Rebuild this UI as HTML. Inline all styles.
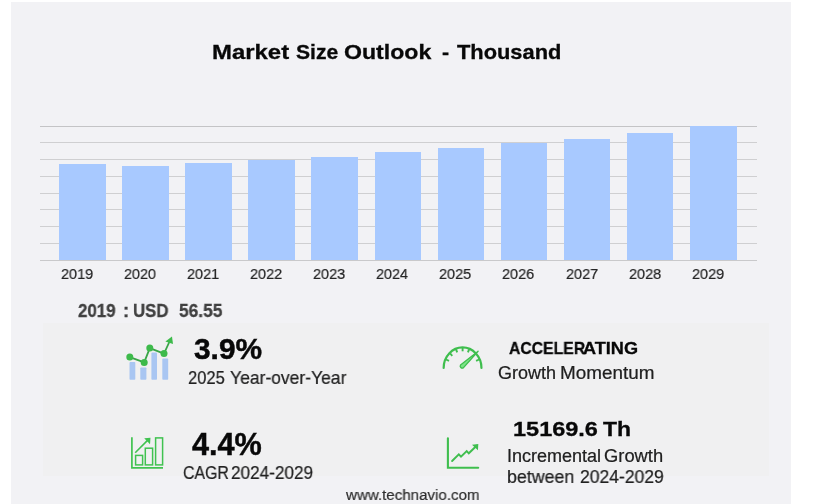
<!DOCTYPE html>
<html>
<head>
<meta charset="utf-8">
<title>Market Size Outlook</title>
<style>
  html, body { margin: 0; padding: 0; }
  body {
    width: 814px; height: 504px; overflow: hidden; position: relative;
    background: #ffffff;
    font-family: "Liberation Sans", sans-serif;
  }
  #panel {
    position: absolute; left: 11px; top: 2px; width: 780px; height: 502px;
    background: #f2f2f5;
  }
  .grid { position: absolute; left: 40px; width: 717px; height: 1px; background: #cfcfd1; }
  .bar { position: absolute; width: 46.5px; background: #a8c9ff; }
  .t { position: absolute; white-space: pre; line-height: 1; margin: 0; padding: 0; transform-origin: 0 0; will-change: transform; }
  svg#icons { position: absolute; left: 0; top: 0; width: 814px; height: 504px; overflow: visible; }
</style>
</head>
<body>
<div id="panel"></div>
<div id="inner" style="position:absolute; left:43px; top:323px; width:726px; height:153px; background:#f0f0f1;"></div>

<!-- gridlines -->
<div class="grid" style="top:125.6px; background:#c4c4c6;"></div>
<div class="grid" style="top:142.3px;"></div>
<div class="grid" style="top:159.1px;"></div>
<div class="grid" style="top:175.8px;"></div>
<div class="grid" style="top:192.6px;"></div>
<div class="grid" style="top:209.3px;"></div>
<div class="grid" style="top:226.1px;"></div>
<div class="grid" style="top:242.8px;"></div>
<div class="grid" style="top:259.6px; background:#c9c9cb;"></div>

<!-- bars -->
<div class="bar" style="left:59px;    top:164.2px; height:95.8px;"></div>
<div class="bar" style="left:122.1px; top:166px;   height:94px;"></div>
<div class="bar" style="left:185.2px; top:163.2px; height:96.8px;"></div>
<div class="bar" style="left:248.3px; top:159.8px; height:100.2px;"></div>
<div class="bar" style="left:311.4px; top:156.9px; height:103.1px;"></div>
<div class="bar" style="left:374.5px; top:151.9px; height:108.1px;"></div>
<div class="bar" style="left:437.6px; top:148.1px; height:111.9px;"></div>
<div class="bar" style="left:500.7px; top:142.7px; height:117.3px;"></div>
<div class="bar" style="left:563.8px; top:138.5px; height:121.5px;"></div>
<div class="bar" style="left:626.9px; top:132.8px; height:127.2px;"></div>
<div class="bar" style="left:690px;   top:126px;   height:134px;"></div>

<!-- icons -->
<svg id="icons" viewBox="0 0 814 504">
  <!-- icon 1: bars + green trend line -->
  <g>
    <rect x="129.5" y="362.1" width="5.8" height="17.7" rx="0.8" fill="#a9c6f2"/>
    <rect x="140.3" y="367.5" width="6.1" height="12.3" rx="0.8" fill="#a9c6f2"/>
    <rect x="151.4" y="352.6" width="5.6" height="27.2" rx="0.8" fill="#a9c6f2"/>
    <rect x="162.3" y="358.6" width="5.9" height="21.2" rx="0.8" fill="#a9c6f2"/>
    <polyline points="129.8,357.1 144.2,362.4 149.8,348.1 164,353.6 170,340.5" fill="none" stroke="#3aa548" stroke-width="1.8" stroke-linejoin="round"/>
    <circle cx="129.8" cy="357.1" r="3.5" fill="#3dba4b"/>
    <circle cx="144.2" cy="362.4" r="3.5" fill="#3dba4b"/>
    <circle cx="149.8" cy="348.1" r="3.5" fill="#3dba4b"/>
    <circle cx="164"   cy="353.6" r="3.5" fill="#3dba4b"/>
    <polygon points="165.4,341.6 172,336.4 173,344" fill="#3dba4b"/>
  </g>

  <!-- icon 2: CAGR outlined bars with arrow -->
  <g fill="none" stroke="#40c250" stroke-width="1.7">
    <polyline points="131.9,437.3 131.9,467.9 163,467.9"/>
    <rect x="135.6" y="455.4" width="7" height="9.5" stroke-width="1.5"/>
    <rect x="145.3" y="448.2" width="7.3" height="16.7" stroke-width="1.5"/>
    <rect x="155.6" y="437.9" width="7" height="27" stroke-width="1.5"/>
    <line x1="135.2" y1="452.8" x2="148.5" y2="439.4" stroke-width="1.6"/>
    <polygon points="144.2,438.2 150.5,437.8 150,444.2" fill="#40c250" stroke="none"/>
  </g>

  <!-- icon 3: speedometer -->
  <g fill="none" stroke="#3fbe4e" stroke-width="2.2" stroke-linecap="round">
    <path d="M443.65,367.9 A18.9,20.5 0 0 1 481.45,367.9"/>
    <g stroke-width="1.9" stroke-linecap="butt">
      <line x1="446.0" y1="359.5" x2="449.0" y2="360.9"/>
      <line x1="450.1" y1="353.3" x2="452.3" y2="355.8"/>
      <line x1="456.0" y1="349.3" x2="457.2" y2="352.4"/>
      <line x1="462.6" y1="348.0" x2="462.6" y2="351.3"/>
      <line x1="469.1" y1="349.3" x2="467.9" y2="352.4"/>
      <line x1="479.1" y1="359.5" x2="476.1" y2="360.9"/>
    </g>
    <path d="M478.1,351.2 L463.3,367.9 A2.1,2.1 0 0 1 460.5,365 Z" fill="#7be487" stroke-width="1.3" stroke-linejoin="round"/>
  </g>

  <!-- icon 4: line chart with arrow -->
  <g fill="none" stroke="#3fbe4e">
    <polyline points="447.9,438.2 447.9,467.8 478.2,467.8" stroke-width="2.1" stroke-linecap="round" stroke-linejoin="miter"/>
    <polyline points="452.1,461 458.8,454.3 461,456.6 466.7,451 468.8,453.3 476.6,445.7" stroke-width="1.9" stroke-linecap="round" stroke-linejoin="miter"/>
    <polygon points="472,444.7 478.3,444.1 477.9,450.2" fill="#3fbe4e" stroke="none"/>
  </g>
</svg>

<!-- text -->
<div class="t" style="left:212.0px;top:41.1px;font-size:21px;font-weight:bold;-webkit-text-stroke:0.3px #080808;color:#080808;transform:scaleX(1.139);">Market</div>
<div class="t" style="left:295.9px;top:41.1px;font-size:21px;font-weight:bold;-webkit-text-stroke:0.3px #080808;color:#080808;transform:scaleX(1.005);">Size</div>
<div class="t" style="left:344.2px;top:41.1px;font-size:21px;font-weight:bold;-webkit-text-stroke:0.3px #080808;color:#080808;transform:scaleX(1.101);">Outlook</div>
<div class="t" style="left:441.8px;top:41.1px;font-size:21px;font-weight:bold;-webkit-text-stroke:0.3px #080808;color:#080808;transform:scaleX(1.018);">-</div>
<div class="t" style="left:456.7px;top:41.1px;font-size:21px;font-weight:bold;-webkit-text-stroke:0.3px #080808;color:#080808;transform:scaleX(1.040);">Thousand</div>
<div class="t" style="left:78.4px;top:301.8px;font-size:18.5px;font-weight:bold;-webkit-text-stroke:0.3px #404040;color:#404040;transform:scaleX(0.916);">2019</div>
<div class="t" style="left:122.5px;top:301.8px;font-size:18.5px;font-weight:bold;-webkit-text-stroke:0.3px #404040;color:#404040;">:</div>
<div class="t" style="left:132.5px;top:301.8px;font-size:18.5px;font-weight:bold;-webkit-text-stroke:0.3px #404040;color:#404040;transform:scaleX(0.907);">USD</div>
<div class="t" style="left:178.9px;top:301.8px;font-size:18.5px;font-weight:bold;-webkit-text-stroke:0.3px #404040;color:#404040;transform:scaleX(0.938);">56.55</div>
<div class="t" style="left:193.6px;top:334.4px;font-size:29.5px;font-weight:bold;-webkit-text-stroke:0.45px #080808;color:#080808;transform:scaleX(1.013);">3.9%</div>
<div class="t" style="left:187.6px;top:368.9px;font-size:18.5px;-webkit-text-stroke:0.22px #202020;color:#202020;transform:scaleX(0.896);">2025</div>
<div class="t" style="left:230.1px;top:368.9px;font-size:18.5px;-webkit-text-stroke:0.22px #202020;color:#202020;transform:scaleX(0.946);">Year-over-Year</div>
<div class="t" style="left:508.5px;top:339.9px;font-size:17px;font-weight:bold;-webkit-text-stroke:0.3px #080808;color:#080808;transform:scaleX(0.926);">ACCELER</div>
<div class="t" style="left:583.2px;top:339.9px;font-size:17px;font-weight:bold;-webkit-text-stroke:0.3px #080808;color:#080808;transform:scaleX(1.066);">ATING</div>
<div class="t" style="left:497.8px;top:363.6px;font-size:18px;-webkit-text-stroke:0.22px #202020;color:#202020;">Growth</div>
<div class="t" style="left:560.3px;top:363.6px;font-size:18px;-webkit-text-stroke:0.22px #202020;color:#202020;transform:scaleX(1.049);">Momentum</div>
<div class="t" style="left:192.2px;top:429.3px;font-size:30.5px;font-weight:bold;-webkit-text-stroke:0.45px #080808;color:#080808;transform:scaleX(1.005);">4.4%</div>
<div class="t" style="left:182.7px;top:464.1px;font-size:18px;-webkit-text-stroke:0.22px #202020;color:#202020;transform:scaleX(0.882);">CAGR</div>
<div class="t" style="left:230.7px;top:464.1px;font-size:18px;-webkit-text-stroke:0.22px #202020;color:#202020;transform:scaleX(0.954);">2024-2029</div>
<div class="t" style="left:513.1px;top:418.5px;font-size:20.5px;font-weight:bold;-webkit-text-stroke:0.3px #080808;color:#080808;transform:scaleX(1.146);">15169.6</div>
<div class="t" style="left:603.4px;top:418.5px;font-size:20.5px;font-weight:bold;-webkit-text-stroke:0.3px #080808;color:#080808;transform:scaleX(1.119);">Th</div>
<div class="t" style="left:507.1px;top:447.0px;font-size:18px;-webkit-text-stroke:0.22px #202020;color:#202020;">Incremental</div>
<div class="t" style="left:604.3px;top:447.0px;font-size:18px;-webkit-text-stroke:0.22px #202020;color:#202020;transform:scaleX(1.019);">Growth</div>
<div class="t" style="left:507.4px;top:467.7px;font-size:18px;-webkit-text-stroke:0.22px #202020;color:#202020;transform:scaleX(0.989);">between</div>
<div class="t" style="left:579.7px;top:467.7px;font-size:18px;-webkit-text-stroke:0.22px #202020;color:#202020;transform:scaleX(0.974);">2024-2029</div>
<div class="t" style="left:346.1px;top:486.8px;font-size:15.5px;-webkit-text-stroke:0.22px #2e2e2e;color:#2e2e2e;transform:scaleX(0.975);">www.technavio.com</div>
<div class="t" style="left:60.7px;top:266.1px;font-size:15.5px;-webkit-text-stroke:0.22px #242424;color:#242424;transform:scaleX(0.936);">2019</div>
<div class="t" style="left:123.8px;top:266.1px;font-size:15.5px;-webkit-text-stroke:0.22px #242424;color:#242424;transform:scaleX(0.929);">2020</div>
<div class="t" style="left:186.9px;top:266.1px;font-size:15.5px;-webkit-text-stroke:0.22px #242424;color:#242424;transform:scaleX(0.936);">2021</div>
<div class="t" style="left:250.0px;top:266.1px;font-size:15.5px;-webkit-text-stroke:0.22px #242424;color:#242424;transform:scaleX(0.936);">2022</div>
<div class="t" style="left:313.1px;top:266.1px;font-size:15.5px;-webkit-text-stroke:0.22px #242424;color:#242424;transform:scaleX(0.936);">2023</div>
<div class="t" style="left:376.2px;top:266.1px;font-size:15.5px;-webkit-text-stroke:0.22px #242424;color:#242424;transform:scaleX(0.929);">2024</div>
<div class="t" style="left:439.3px;top:266.1px;font-size:15.5px;-webkit-text-stroke:0.22px #242424;color:#242424;transform:scaleX(0.936);">2025</div>
<div class="t" style="left:502.4px;top:266.1px;font-size:15.5px;-webkit-text-stroke:0.22px #242424;color:#242424;transform:scaleX(0.936);">2026</div>
<div class="t" style="left:565.5px;top:266.1px;font-size:15.5px;-webkit-text-stroke:0.22px #242424;color:#242424;transform:scaleX(0.936);">2027</div>
<div class="t" style="left:628.6px;top:266.1px;font-size:15.5px;-webkit-text-stroke:0.22px #242424;color:#242424;transform:scaleX(0.936);">2028</div>
<div class="t" style="left:691.7px;top:266.1px;font-size:15.5px;-webkit-text-stroke:0.22px #242424;color:#242424;transform:scaleX(0.936);">2029</div>

</body>
</html>
